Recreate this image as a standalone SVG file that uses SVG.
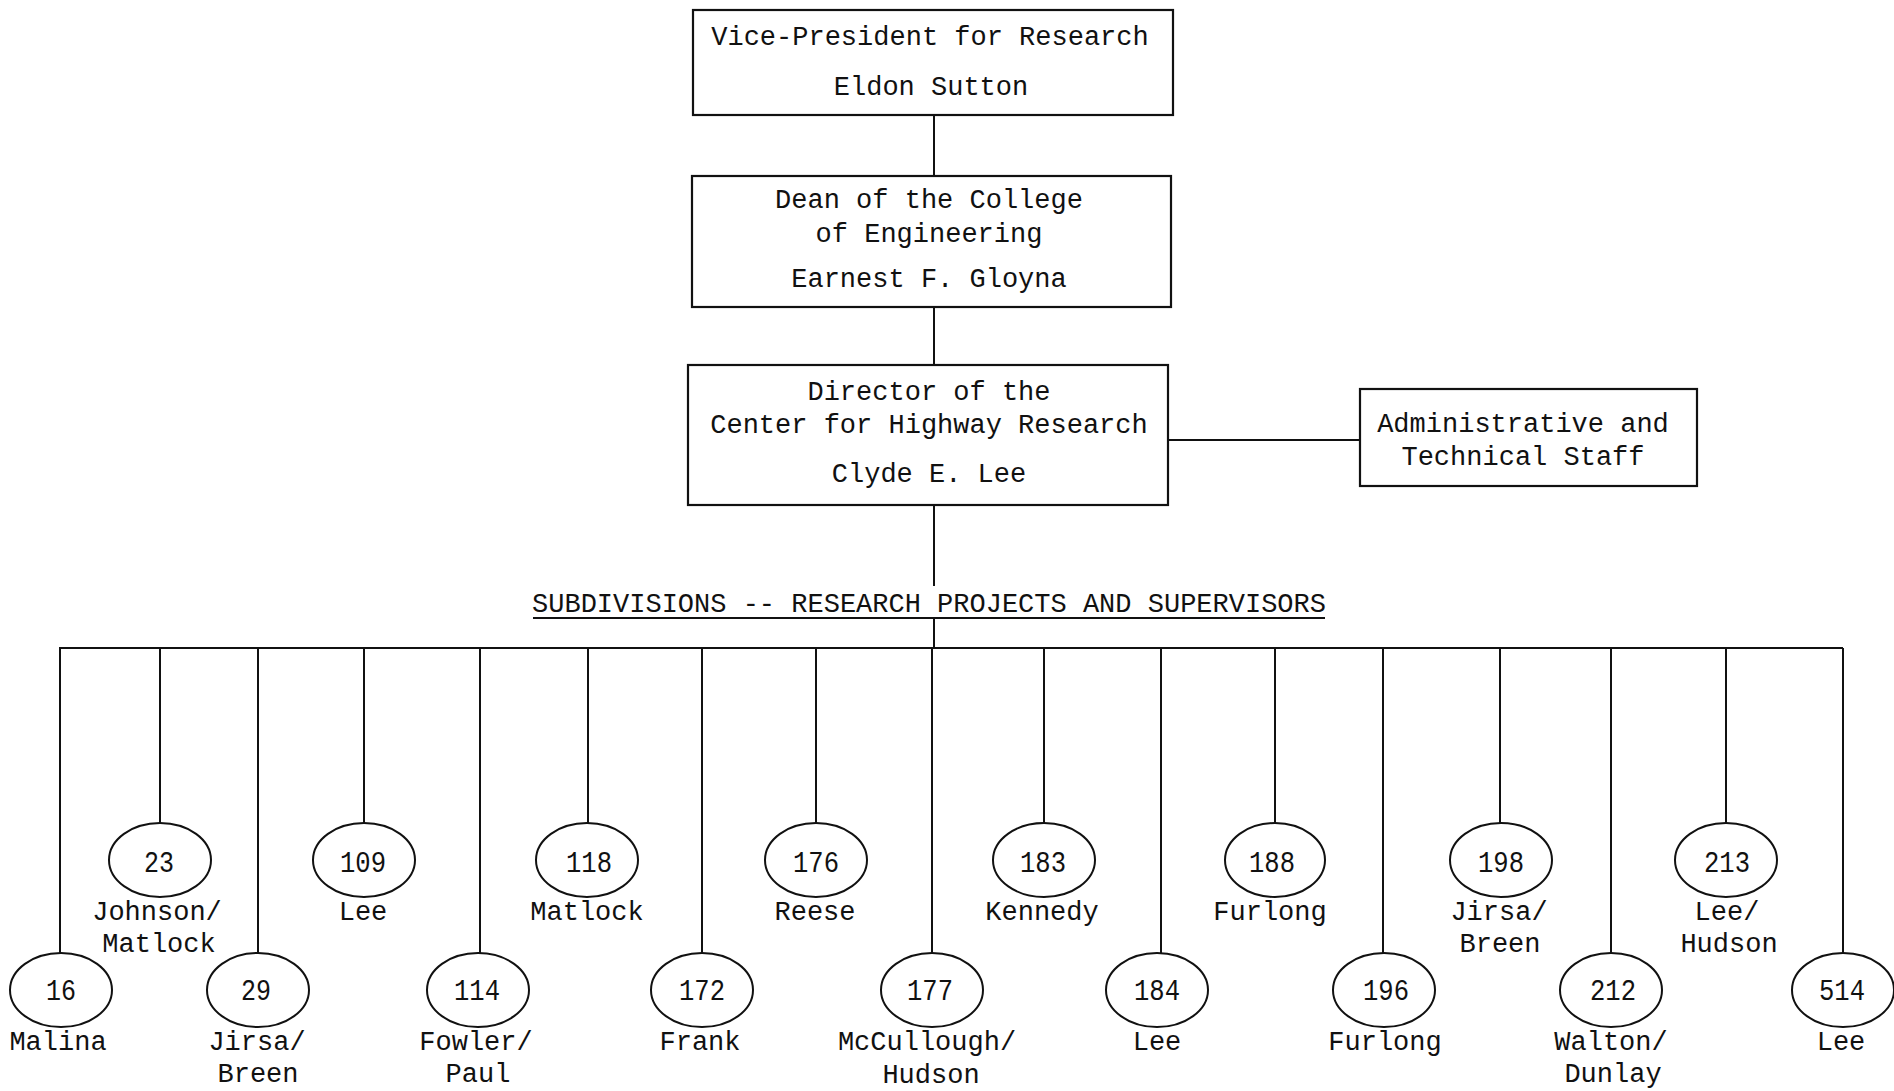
<svg xmlns="http://www.w3.org/2000/svg" width="1894" height="1091" viewBox="0 0 1894 1091">
<style>
.bg{fill:#fff}
.box{fill:#fff;stroke:#111;stroke-width:2.2}
.ell{fill:#fff;stroke:#111;stroke-width:2}
.ln{stroke:#111;stroke-width:2;fill:none}
.t{font-family:"Liberation Mono","Courier New",monospace;font-size:27px;fill:#111;text-anchor:middle}
.n{font-family:"Liberation Mono","Courier New",monospace;font-size:30px;fill:#111;text-anchor:middle}
</style>
<rect class="bg" x="0" y="0" width="1894" height="1091"/>
<g id="connectors">
<line class="ln" x1="934" y1="115" x2="934" y2="176"/>
<line class="ln" x1="934" y1="307" x2="934" y2="365"/>
<line class="ln" x1="1168" y1="440" x2="1360" y2="440"/>
<line class="ln" x1="934" y1="505" x2="934" y2="586"/>
<line class="ln" x1="533" y1="618" x2="1325" y2="618"/>
<line class="ln" x1="934" y1="618" x2="934" y2="648"/>
<line class="ln" x1="59" y1="648" x2="1843" y2="648"/>
<line class="ln" x1="60" y1="648" x2="60" y2="953"/>
<line class="ln" x1="160" y1="648" x2="160" y2="823"/>
<line class="ln" x1="258" y1="648" x2="258" y2="953"/>
<line class="ln" x1="364" y1="648" x2="364" y2="823"/>
<line class="ln" x1="480" y1="648" x2="480" y2="953"/>
<line class="ln" x1="588" y1="648" x2="588" y2="823"/>
<line class="ln" x1="702" y1="648" x2="702" y2="953"/>
<line class="ln" x1="816" y1="648" x2="816" y2="823"/>
<line class="ln" x1="932" y1="648" x2="932" y2="953"/>
<line class="ln" x1="1044" y1="648" x2="1044" y2="823"/>
<line class="ln" x1="1161" y1="648" x2="1161" y2="953"/>
<line class="ln" x1="1275" y1="648" x2="1275" y2="823"/>
<line class="ln" x1="1383" y1="648" x2="1383" y2="953"/>
<line class="ln" x1="1500" y1="648" x2="1500" y2="823"/>
<line class="ln" x1="1611" y1="648" x2="1611" y2="953"/>
<line class="ln" x1="1726" y1="648" x2="1726" y2="823"/>
<line class="ln" x1="1843" y1="648" x2="1843" y2="953"/>
</g>
<g id="vp">
<rect class="box" x="693" y="10" width="480" height="105"/>
<text class="t" x="930" y="45">Vice-President for Research</text>
<text class="t" x="931" y="95">Eldon Sutton</text>
</g>
<g id="dean">
<rect class="box" x="692" y="176" width="479" height="131"/>
<text class="t" x="929" y="208">Dean of the College</text>
<text class="t" x="929" y="242">of Engineering</text>
<text class="t" x="929" y="287">Earnest F. Gloyna</text>
</g>
<g id="director">
<rect class="box" x="688" y="365" width="480" height="140"/>
<text class="t" x="929" y="400">Director of the</text>
<text class="t" x="929" y="433">Center for Highway Research</text>
<text class="t" x="929" y="482">Clyde E. Lee</text>
</g>
<g id="staff">
<rect class="box" x="1360" y="389" width="337" height="97"/>
<text class="t" x="1523" y="432">Administrative and</text>
<text class="t" x="1523" y="465">Technical Staff</text>
</g>
<g id="subdivisions">
<text class="t" x="929" y="612">SUBDIVISIONS -- RESEARCH PROJECTS AND SUPERVISORS</text>
</g>
<g id="p16"><ellipse class="ell" cx="61" cy="990" rx="51" ry="37"/><text class="n" x="61" y="1000" textLength="30" lengthAdjust="spacingAndGlyphs">16</text><text class="t" x="58" y="1050">Malina</text></g>
<g id="p23"><ellipse class="ell" cx="160" cy="860" rx="51" ry="37"/><text class="n" x="159" y="872" textLength="30" lengthAdjust="spacingAndGlyphs">23</text><text class="t" x="157" y="920">Johnson/</text><text class="t" x="159" y="952">Matlock</text></g>
<g id="p29"><ellipse class="ell" cx="258" cy="990" rx="51" ry="37"/><text class="n" x="256" y="1000" textLength="30" lengthAdjust="spacingAndGlyphs">29</text><text class="t" x="257" y="1050">Jirsa/</text><text class="t" x="258" y="1082">Breen</text></g>
<g id="p109"><ellipse class="ell" cx="364" cy="860" rx="51" ry="37"/><text class="n" x="363" y="872" textLength="46" lengthAdjust="spacingAndGlyphs">109</text><text class="t" x="363" y="920">Lee</text></g>
<g id="p114"><ellipse class="ell" cx="478" cy="990" rx="51" ry="37"/><text class="n" x="477" y="1000" textLength="46" lengthAdjust="spacingAndGlyphs">114</text><text class="t" x="476" y="1050">Fowler/</text><text class="t" x="478" y="1082">Paul</text></g>
<g id="p118"><ellipse class="ell" cx="587" cy="860" rx="51" ry="37"/><text class="n" x="589" y="872" textLength="46" lengthAdjust="spacingAndGlyphs">118</text><text class="t" x="587" y="920">Matlock</text></g>
<g id="p172"><ellipse class="ell" cx="702" cy="990" rx="51" ry="37"/><text class="n" x="702" y="1000" textLength="46" lengthAdjust="spacingAndGlyphs">172</text><text class="t" x="700" y="1050">Frank</text></g>
<g id="p176"><ellipse class="ell" cx="816" cy="860" rx="51" ry="37"/><text class="n" x="816" y="872" textLength="46" lengthAdjust="spacingAndGlyphs">176</text><text class="t" x="815" y="920">Reese</text></g>
<g id="p177"><ellipse class="ell" cx="932" cy="990" rx="51" ry="37"/><text class="n" x="930" y="1000" textLength="46" lengthAdjust="spacingAndGlyphs">177</text><text class="t" x="927" y="1050">McCullough/</text><text class="t" x="931" y="1083">Hudson</text></g>
<g id="p183"><ellipse class="ell" cx="1044" cy="860" rx="51" ry="37"/><text class="n" x="1043" y="872" textLength="46" lengthAdjust="spacingAndGlyphs">183</text><text class="t" x="1042" y="920">Kennedy</text></g>
<g id="p184"><ellipse class="ell" cx="1157" cy="990" rx="51" ry="37"/><text class="n" x="1157" y="1000" textLength="46" lengthAdjust="spacingAndGlyphs">184</text><text class="t" x="1157" y="1050">Lee</text></g>
<g id="p188"><ellipse class="ell" cx="1275" cy="860" rx="50" ry="37"/><text class="n" x="1272" y="872" textLength="46" lengthAdjust="spacingAndGlyphs">188</text><text class="t" x="1270" y="920">Furlong</text></g>
<g id="p196"><ellipse class="ell" cx="1384" cy="990" rx="51" ry="37"/><text class="n" x="1386" y="1000" textLength="46" lengthAdjust="spacingAndGlyphs">196</text><text class="t" x="1385" y="1050">Furlong</text></g>
<g id="p198"><ellipse class="ell" cx="1501" cy="860" rx="51" ry="37"/><text class="n" x="1501" y="872" textLength="46" lengthAdjust="spacingAndGlyphs">198</text><text class="t" x="1499" y="920">Jirsa/</text><text class="t" x="1500" y="952">Breen</text></g>
<g id="p212"><ellipse class="ell" cx="1611" cy="990" rx="51" ry="37"/><text class="n" x="1613" y="1000" textLength="46" lengthAdjust="spacingAndGlyphs">212</text><text class="t" x="1611" y="1050">Walton/</text><text class="t" x="1613" y="1082">Dunlay</text></g>
<g id="p213"><ellipse class="ell" cx="1726" cy="860" rx="51" ry="37"/><text class="n" x="1727" y="872" textLength="46" lengthAdjust="spacingAndGlyphs">213</text><text class="t" x="1727" y="920">Lee/</text><text class="t" x="1729" y="952">Hudson</text></g>
<g id="p514"><ellipse class="ell" cx="1843" cy="990" rx="51" ry="37"/><text class="n" x="1842" y="1000" textLength="46" lengthAdjust="spacingAndGlyphs">514</text><text class="t" x="1841" y="1050">Lee</text></g>
</svg>
